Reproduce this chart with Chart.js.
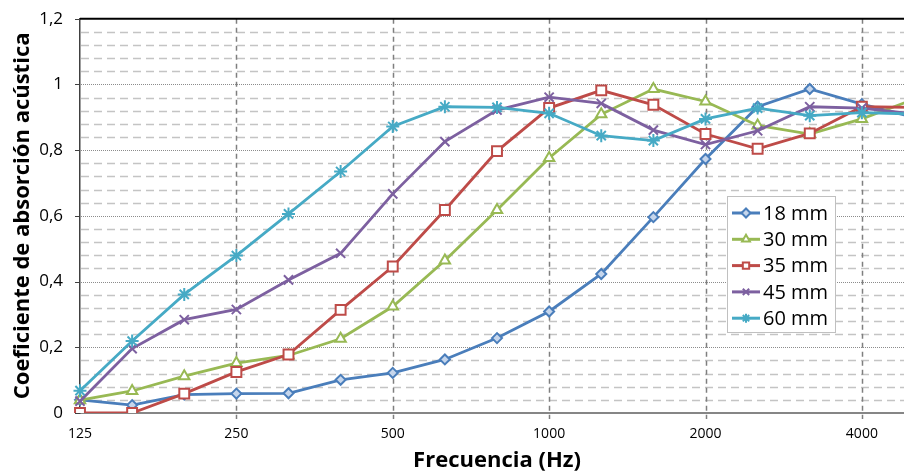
<!DOCTYPE html>
<html>
<head>
<meta charset="utf-8">
<script src="https://cdn.jsdelivr.net/npm/chart.js"></script>
<style>
  html, body { margin: 0; padding: 0; background: #fff; overflow: hidden; }
  #wrap { width: 930px; height: 474px; }
</style>
</head>
<body>
<div id="wrap"><canvas id="absChart" width="930" height="474"></canvas></div>
<script>
// 1/3 octave bands (Hz)
const freqs = ['125', '160', '200', '250', '315', '400', '500', '630', '800', '1000',
  '1250', '1600', '2000', '2500', '3150', '4000', '5000'];

// absorption coefficient per thickness
const mm18 = [0.040, 0.024, 0.056, 0.059, 0.060, 0.101, 0.122, 0.163, 0.228, 0.309, 0.423, 0.596, 0.773, 0.932, 0.986, 0.940, 0.900];
const mm30 = [0.039, 0.067, 0.112, 0.152, 0.175, 0.226, 0.324, 0.464, 0.618, 0.776, 0.909, 0.986, 0.948, 0.875, 0.849, 0.895, 0.955];
const mm35 = [0.000, 0.000, 0.059, 0.125, 0.178, 0.314, 0.446, 0.618, 0.797, 0.928, 0.982, 0.938, 0.849, 0.804, 0.851, 0.932, 0.930];
const mm45 = [0.036, 0.196, 0.284, 0.315, 0.405, 0.486, 0.667, 0.826, 0.922, 0.961, 0.942, 0.861, 0.817, 0.859, 0.932, 0.928, 0.910];
const mm60 = [0.068, 0.219, 0.361, 0.479, 0.606, 0.735, 0.872, 0.932, 0.930, 0.912, 0.844, 0.829, 0.895, 0.928, 0.905, 0.914, 0.910];

const seriesNames = ['18 mm', '30 mm', '35 mm', '45 mm', '60 mm'];
const seriesData = [mm18, mm30, mm35, mm45, mm60];
const colors = ['#4a7ebb', '#98b954', '#be4b48', '#7d60a0', '#46aac5'];
const fills = ['#c6d6ec', '#ffffff', '#ffffff', '#7d60a0', '#46aac5'];
const markers = ['rectRot', 'triangle', 'rect', 'crossRot', 'star'];
const radii = [5, 6, 7, 6.5, 6.5];

// Excel-like gridlines: dotted majors, dashed minors, dashed octave verticals
const gridPlugin = {
  id: 'excelGrid',
  beforeDatasetsDraw(chart) {
    const { ctx, chartArea: a, scales: { x, y } } = chart;
    ctx.save();
    ctx.lineWidth = 1.5;
    ctx.strokeStyle = '#c4c4c4';
    ctx.setLineDash([8, 5]);
    for (let k = 1; k < 30; k++) {
      if (k % 5 === 0) continue;
      const py = Math.round(y.getPixelForValue(k * 0.04)) + 0.5;
      ctx.beginPath(); ctx.moveTo(a.left + 1, py); ctx.lineTo(a.right, py); ctx.stroke();
    }
    ctx.lineWidth = 1;
    ctx.strokeStyle = '#8c8c8c';
    ctx.setLineDash([1, 1]);
    for (let k = 1; k < 6; k++) {
      const py = Math.round(y.getPixelForValue(k * 0.2)) + 0.5;
      ctx.beginPath(); ctx.moveTo(a.left + 1, py); ctx.lineTo(a.right, py); ctx.stroke();
    }
    // short outside ticks on the value axis
    ctx.setLineDash([]);
    ctx.strokeStyle = '#404040';
    for (let k = 0; k <= 6; k++) {
      const py = Math.round(y.getPixelForValue(k * 0.2)) + 0.5;
      ctx.beginPath(); ctx.moveTo(a.left - 5, py); ctx.lineTo(a.left, py); ctx.stroke();
    }
    ctx.lineWidth = 1.5;
    ctx.strokeStyle = '#7f7f7f';
    ctx.setLineDash([5, 4]);
    for (let i = 3; i < freqs.length; i += 3) {
      const px = Math.round(x.getPixelForValue(i)) + 0.5;
      ctx.beginPath(); ctx.moveTo(px, a.top); ctx.lineTo(px, a.bottom + 6); ctx.stroke();
    }
    ctx.setLineDash([]);
    ctx.lineWidth = 2;
    ctx.strokeStyle = '#000';
    ctx.beginPath(); ctx.moveTo(a.left, a.top); ctx.lineTo(a.right, a.top); ctx.stroke();
    ctx.restore();
  }
};

// boxed legend with line + marker samples, inside the plot
const legendPlugin = {
  id: 'boxLegend',
  afterDraw(chart) {
    const { ctx } = chart;
    const bx = 727.5, by = 196.5, bw = 108, bh = 136;
    ctx.save();
    ctx.fillStyle = '#fff';
    ctx.fillRect(bx, by, bw, bh);
    ctx.strokeStyle = '#c0c0c0';
    ctx.lineWidth = 1;
    ctx.strokeRect(bx, by, bw, bh);
    chart.data.datasets.forEach((ds, i) => {
      const cy = 213 + i * 26.3;
      ctx.strokeStyle = ds.borderColor;
      ctx.lineWidth = 3;
      ctx.beginPath(); ctx.moveTo(732, cy); ctx.lineTo(760, cy); ctx.stroke();
      ctx.fillStyle = ds.pointBackgroundColor;
      ctx.lineWidth = 2;
      Chart.helpers.drawPoint(ctx, { pointStyle: ds.pointStyle, radius: 4.5, borderWidth: 2, rotation: 0 }, 746, cy);
      ctx.fillStyle = '#000';
      ctx.font = "20px 'Open Sans'";
      ctx.textBaseline = 'middle';
      ctx.fillText(ds.label, 763, cy + 1);
    });
    ctx.restore();
  }
};

const ctx = document.getElementById('absChart').getContext('2d');
Chart.defaults.font.family = "'Open Sans', sans-serif";
Chart.defaults.color = '#000';

new Chart(ctx, {
  type: 'line',
  data: {
    labels: freqs,
    datasets: seriesNames.map((name, i) => ({
      label: name,
      data: seriesData[i],
      borderColor: colors[i],
      borderWidth: 2.8,
      pointStyle: markers[i],
      pointRadius: radii[i],
      pointBorderColor: colors[i],
      pointBackgroundColor: fills[i],
      pointBorderWidth: 2,
      tension: 0,
      order: 5 - i
    }))
  },
  options: {
    responsive: false,
    animation: false,
    layout: { padding: { left: 0, right: 16, top: 10, bottom: 0 } },
    plugins: {
      legend: { display: false },
      tooltip: { enabled: false }
    },
    scales: {
      x: {
        type: 'category',
        offset: false,
        afterFit: (s) => { s.height = 61; },
        grid: { display: false, drawTicks: false },
        border: { display: true, color: '#868686', width: 2 },
        ticks: {
          autoSkip: false,
          maxRotation: 0,
          padding: 13,
          font: { size: 14 },
          callback: (val, i) => (i % 3 === 0 ? freqs[i] : '')
        },
        title: {
          display: true,
          text: 'Frecuencia (Hz)',
          font: { size: 22, weight: 'bold' },
          padding: { top: 0, bottom: 0 }
        }
      },
      y: {
        min: 0,
        max: 1.2,
        afterFit: (s) => { s.width = 80; },
        grid: { display: true, drawOnChartArea: false, drawTicks: true, tickLength: 8.5, tickColor: 'rgba(0,0,0,0)', color: 'rgba(0,0,0,0)' },
        border: { display: true, color: '#404040', width: 1.5 },
        ticks: {
          stepSize: 0.2,
          padding: 8.5,
          font: { size: 17 },
          callback: (v) => String(Math.round(v * 10) / 10).replace('.', ',')
        },
        title: {
          display: true,
          text: 'Coeficiente de absorción acústica',
          font: { size: 22, weight: 'bold' },
          padding: { top: 10, bottom: 0 }
        }
      }
    }
  },
  plugins: [gridPlugin, legendPlugin]
});
</script>
</body>
</html>
